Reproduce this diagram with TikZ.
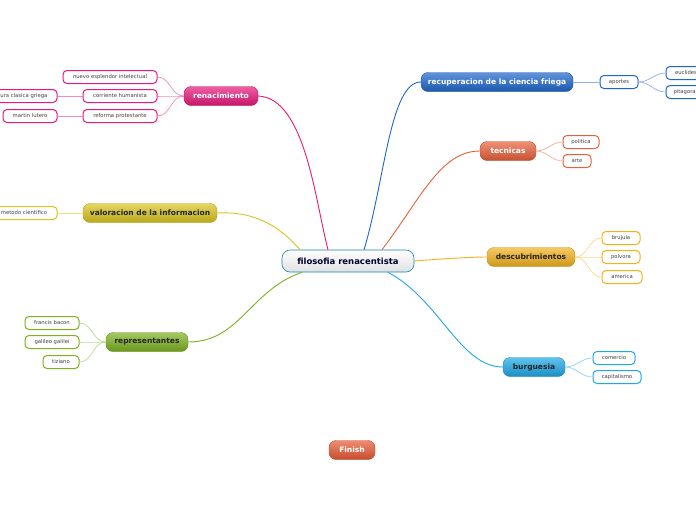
\documentclass[tikz,border=0pt]{standalone}
\usepackage{fontspec}
\setmainfont{DejaVu Sans}
\definecolor{cpink}{HTML}{E8197A}
\definecolor{cyel}{HTML}{D9C51E}
\definecolor{cgreen}{HTML}{7DB21F}
\definecolor{cblue}{HTML}{1E66CC}
\definecolor{corange}{HTML}{E8603A}
\definecolor{cgold}{HTML}{F2B21E}
\definecolor{ccyan}{HTML}{1EA8E6}
\definecolor{cfin}{HTML}{E85A35}
\begin{document}
\begin{tikzpicture}[x=1pt,y=-1pt,
 mainb/.style={rounded corners=7pt,minimum height=19pt,inner sep=0pt,font=\fontsize{7.5}{8}\selectfont\bfseries,text=white,top color=#1!70!white,bottom color=#1!85!black,draw=#1!80!black,line width=0.4pt},
 leaf/.style={rounded corners=4pt,minimum height=13pt,inner sep=0pt,font=\fontsize{5.3}{6}\selectfont,text=black!75,fill=white,draw=#1,line width=1pt},
 con/.style={draw=#1,line width=0.9pt},
 lcon/.style={draw=#1!50!white,line width=0.7pt}]
\useasboundingbox (0,0) rectangle (696,520);
\fill[white] (0,0) rectangle (696,520);
% central
\node[rounded corners=8pt,minimum width=132pt,minimum height=22pt,inner sep=0pt,top color=white,bottom color=black!12,draw=ccyan!80!black,line width=0.6pt,font=\fontsize{8.5}{9}\selectfont\bfseries,text=black!80!blue] (c) at (348,261) {filosofia renacentista};
% main nodes
\node[mainb=cpink,minimum width=74pt] (ren) at (221,96) {renacimiento};
\node[mainb=cyel,minimum width=134pt,text=black!85] (val) at (150,213) {valoracion de la informacion};
\node[mainb=cgreen,minimum width=82pt,text=black!85] (rep) at (147,342) {representantes};
\node[mainb=cblue,minimum width=152pt] (rec) at (497,82) {recuperacion de la ciencia friega};
\node[mainb=corange,minimum width=56pt] (tec) at (508,151) {tecnicas};
\node[mainb=cgold,minimum width=88pt,text=black!85] (des) at (531,257) {descubrimientos};
\node[mainb=ccyan,minimum width=62pt,text=black!85] (bur) at (534,367) {burguesia};
\node[mainb=cfin,minimum width=46pt] (fin) at (352,450) {Finish};
% leaves
\node[leaf=cpink,minimum width=94pt] (l1) at (110,77) {nuevo esplendor intelectual};
\node[leaf=cpink,minimum width=74pt] (l2) at (120,96) {corriente humanista};
\node[leaf=cpink,minimum width=74pt] (l3) at (120,116) {reforma protestante};
\node[leaf=cpink,minimum width=76pt] (l4) at (19,96) {cultura clasica griega};
\node[leaf=cpink,minimum width=54pt] (l5) at (30,116) {martin lutero};
\node[leaf=cyel,minimum width=66pt] (v1) at (24,213) {metodo cientifico};
\node[leaf=cgreen,minimum width=54pt] (r1) at (52,323) {francis bacon};
\node[leaf=cgreen,minimum width=54pt] (r2) at (52,342) {galileo galilei};
\node[leaf=cgreen,minimum width=36pt] (r3) at (61,362) {tiziano};
\node[leaf=cblue,minimum width=38pt] (a0) at (619,82) {aportes};
\node[leaf=cblue,minimum width=40pt] (a1) at (686,73) {euclides};
\node[leaf=cblue,minimum width=40pt] (a2) at (686,92) {pitagoras};
\node[leaf=corange,minimum width=36pt] (t1) at (581,142) {politica};
\node[leaf=corange,minimum width=28pt] (t2) at (577,161) {arte};
\node[leaf=cgold,minimum width=38pt] (d1) at (621,238) {brujula};
\node[leaf=cgold,minimum width=38pt] (d2) at (621,257) {polvora};
\node[leaf=cgold,minimum width=40pt] (d3) at (622,277) {america};
\node[leaf=ccyan,minimum width=42pt] (b1) at (614,358) {comercio};
\node[leaf=ccyan,minimum width=48pt] (b2) at (617,377) {capitalismo};
% main connectors
\begin{scope}[on background layer/.style={}]
\draw[con=cpink] ([xshift=-20pt]c.north) .. controls (315,200) and (305,98) .. (ren.east);
\draw[con=cyel] ([xshift=-48pt]c.north) .. controls (270,215) and (240,212) .. (val.east);
\draw[con=cgreen] ([xshift=-46pt]c.south) .. controls (250,290) and (240,342) .. (rep.east);
\draw[con=cblue] ([xshift=16pt]c.north) .. controls (385,180) and (390,82) .. (rec.west);
\draw[con=corange] ([xshift=34pt]c.north) .. controls (420,200) and (440,151) .. (tec.west);
\draw[con=cgold] (c.east) .. controls (440,259) and (470,257) .. (des.west);
\draw[con=ccyan] ([xshift=40pt]c.south) .. controls (440,300) and (460,367) .. (bur.west);
\end{scope}
% leaf connectors
\foreach \l in {l1,l2,l3} \draw[lcon=cpink] (ren.west) to[out=180,in=0] (\l.east);
\draw[lcon=cpink] (l2.west) -- (l4.east);
\draw[lcon=cpink] (l3.west) -- (l5.east);
\draw[lcon=cyel] (val.west) -- (v1.east);
\foreach \l in {r1,r2,r3} \draw[lcon=cgreen] (rep.west) to[out=180,in=0] (\l.east);
\draw[lcon=cblue] (rec.east) -- (a0.west);
\foreach \l in {a1,a2} \draw[lcon=cblue] (a0.east) to[out=0,in=180] (\l.west);
\foreach \l in {t1,t2} \draw[lcon=corange] (tec.east) to[out=0,in=180] (\l.west);
\foreach \l in {d1,d2,d3} \draw[lcon=cgold] (des.east) to[out=0,in=180] (\l.west);
\foreach \l in {b1,b2} \draw[lcon=ccyan] (bur.east) to[out=0,in=180] (\l.west);
\end{tikzpicture}
\end{document}
